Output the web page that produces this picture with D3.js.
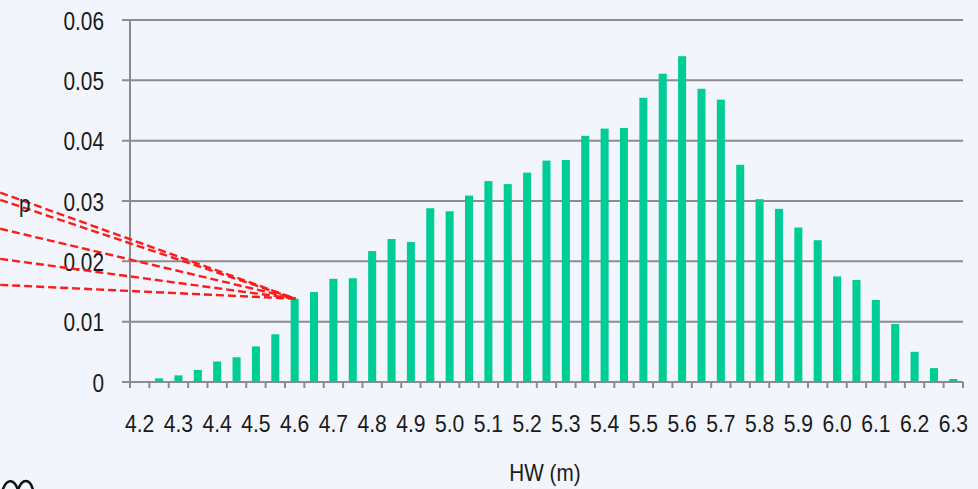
<!DOCTYPE html>
<html>
<head>
<meta charset="utf-8">
<script src="https://cdn.jsdelivr.net/npm/d3@7/dist/d3.min.js"></script>
<style>
  html, body { margin: 0; padding: 0; background: #f2f5fb; }
  svg { display: block; }
  text { font-family: "Liberation Sans", Arial, sans-serif; fill: #1a1a1a; }
</style>
</head>
<body>
<script>
// ---- data ----
const categories = ["4.20","4.25","4.30","4.35","4.40","4.45","4.50","4.55","4.60","4.65",
  "4.70","4.75","4.80","4.85","4.90","4.95","5.00","5.05","5.10","5.15",
  "5.20","5.25","5.30","5.35","5.40","5.45","5.50","5.55","5.60","5.65",
  "5.70","5.75","5.80","5.85","5.90","5.95","6.00","6.05","6.10","6.15",
  "6.20","6.25","6.30"];
const probabilities = [0.0000,0.0006,0.0011,0.0020,0.0034,0.0041,0.0059,0.0079,0.0138,0.0149,
  0.0171,0.0172,0.0217,0.0237,0.0232,0.0288,0.0283,0.0309,0.0333,0.0328,
  0.0347,0.0367,0.0368,0.0408,0.0420,0.0421,0.0471,0.0511,0.0540,0.0486,
  0.0468,0.0360,0.0303,0.0287,0.0256,0.0235,0.0175,0.0169,0.0136,0.0096,
  0.0050,0.0023,0.0005];
const xTickLabels = ["4.2","4.3","4.4","4.5","4.6","4.7","4.8","4.9","5.0","5.1","5.2",
  "5.3","5.4","5.5","5.6","5.7","5.8","5.9","6.0","6.1","6.2","6.3"];
const yTicks = [0, 0.01, 0.02, 0.03, 0.04, 0.05, 0.06];
const yTickLabels = ["0","0.01","0.02","0.03","0.04","0.05","0.06"];
const xAxisTitle = "HW (m)";
// red dashed annotation lines: origin (hw, p) -> target (hw, p)
const annoStartHW = [3.84, 3.84, 3.84, 3.84, 3.84];
const annoStartP = [0.0314, 0.0302, 0.0254, 0.0204, 0.0161];
const annoEnd = { hw: 4.602, p: 0.0138 };
const annoLabel = "p";

// ---- layout ----
const W = 978, H = 489;
const mLeft = 130, mRight = 963, mTop = 20, mBottom = 382;

const svg = d3.select("body").append("svg").attr("width", W).attr("height", H);
svg.append("rect").attr("width", W).attr("height", H).attr("fill", "#f2f5fb");

const pIn = 0.585;
const x = d3.scaleBand().domain(categories).range([mLeft, mRight]).paddingInner(pIn).paddingOuter(pIn / 2);
const y = d3.scaleLinear().domain([0, 0.06]).range([mBottom, mTop]);
const step = x.step();
// continuous hw scale consistent with band centers, for annotations
const hwLin = d3.scaleLinear()
  .domain([+categories[0], +categories[categories.length - 1]])
  .range([x(categories[0]) + x.bandwidth() / 2,
          x(categories[categories.length - 1]) + x.bandwidth() / 2]);

const gridColor = "#8c8c8c";

// condensed text helper
function ctext(sel, px, py, sx) {
  return sel.attr("transform", `translate(${px},${py}) scale(${sx},1)`);
}

// gridlines with left tick
svg.append("g").selectAll("line").data(yTicks).join("line")
  .attr("x1", mLeft - 8).attr("x2", mRight)
  .attr("y1", d => y(d)).attr("y2", d => y(d))
  .attr("stroke", gridColor).attr("stroke-width", 2);

// y axis line
svg.append("line").attr("x1", mLeft).attr("x2", mLeft).attr("y1", y(0.06)).attr("y2", y(0) + 6)
  .attr("stroke", gridColor).attr("stroke-width", 2);

// y labels
svg.append("g").selectAll("text").data(yTicks).join("text")
  .attr("transform", d => `translate(104,${y(d) + 9.5}) scale(0.8,1)`)
  .attr("text-anchor", "end").attr("font-size", 26)
  .text((d, i) => yTickLabels[i]);

// bars
svg.append("g").selectAll("rect").data(categories).join("rect")
  .attr("x", d => x(d)).attr("width", x.bandwidth())
  .attr("y", (d, i) => y(probabilities[i]))
  .attr("height", (d, i) => y(0) - y(probabilities[i]))
  .attr("fill", "#00cc96");

// x ticks at band boundaries
const boundaries = categories.map(c => x(c) - step * pIn / 2);
boundaries.push(x(categories[categories.length - 1]) + x.bandwidth() + step * pIn / 2);
svg.append("g").selectAll("line").data(boundaries).join("line")
  .attr("x1", d => d).attr("x2", d => d)
  .attr("y1", y(0)).attr("y2", y(0) + 6)
  .attr("stroke", gridColor).attr("stroke-width", 2);

// x labels
svg.append("g").selectAll("text").data(xTickLabels).join("text")
  .attr("transform", d => `translate(${x((+d).toFixed(2)) + x.bandwidth() / 2},432) scale(0.88,1)`)
  .attr("text-anchor", "middle").attr("font-size", 24)
  .text(d => d);

// x title
ctext(svg.append("text"), 545, 481, 0.9)
  .attr("text-anchor", "middle").attr("font-size", 23)
  .text(xAxisTitle);

// annotation lines
const ex = hwLin(annoEnd.hw), ey = y(annoEnd.p);
svg.append("g").selectAll("line").data(annoStartP).join("line")
  .attr("x1", (d, i) => hwLin(annoStartHW[i])).attr("y1", d => y(d))
  .attr("x2", ex).attr("y2", ey)
  .attr("stroke", "#ff1a1a").attr("stroke-width", 2.4)
  .attr("stroke-dasharray", "8,4");

ctext(svg.append("text"), 19, 212, 0.85).attr("font-size", 24)
  .text(annoLabel);

// partial icon at bottom-left (cut off by the edge)
svg.append("path")
  .attr("d", "M2,492 C6,478 14,478 18,490 C22,478 30,478 33,490")
  .attr("fill", "none").attr("stroke", "#111").attr("stroke-width", 2.5);
</script>
</body>
</html>
